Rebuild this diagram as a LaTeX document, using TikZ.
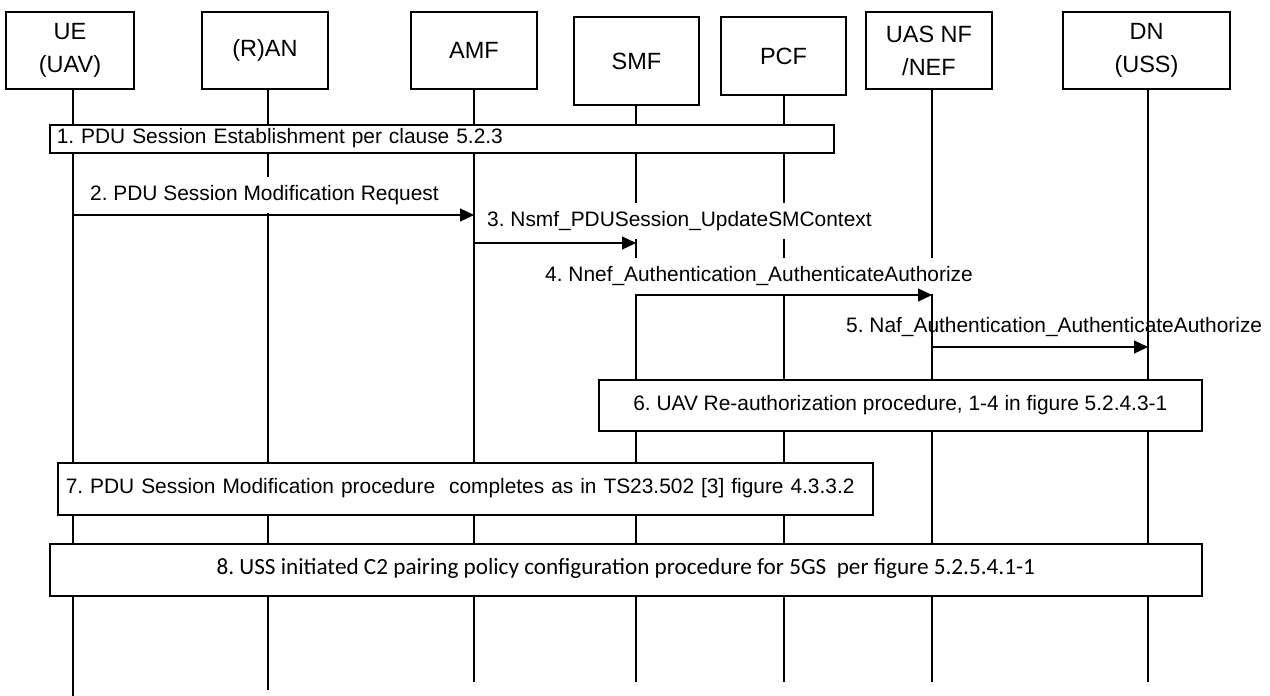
\documentclass[tikz,border=0pt]{standalone}
\usepackage{fontspec}
\setmainfont{Liberation Sans}
\newfontfamily\calib{Carlito}
\usetikzlibrary{arrows.meta}
\begin{document}
\frenchspacing
\begin{tikzpicture}[x=1pt,y=-1pt,
  hdr/.style={draw, line width=1.6pt, align=center, font=\fontsize{23.5}{33}\selectfont, inner sep=0pt},
  life/.style={line width=1.1pt},
  proc/.style={draw, line width=1.6pt, fill=white, font=\fontsize{20.9}{24}\selectfont, inner ysep=0pt, text height=15pt, text depth=5pt},
  lbl/.style={font=\fontsize{20.9}{24}\selectfont, inner xsep=1pt, inner ysep=8pt, text height=15pt, text depth=5pt},
  msg/.style={line width=1.2pt, -{Triangle[length=14pt,width=13pt]}}
]
\useasboundingbox (0,0) rectangle (1270,696);
\fill[white] (0,0) rectangle (1270,696);
% headers
\node[hdr, minimum width=128pt, minimum height=77pt] (ue)  at (70,50.5)   {UE\\(UAV)};
\node[hdr, minimum width=126pt, minimum height=77pt] (ran) at (265,50.5)  {(R)AN};
\node[hdr, minimum width=126pt, minimum height=77pt] (amf) at (474,50.5)  {AMF};
\node[hdr, minimum width=125pt, minimum height=88pt] (smf) at (636.5,61)  {SMF};
\node[hdr, minimum width=125pt, minimum height=78pt] (pcf) at (783.5,56)  {PCF};
\node[hdr, minimum width=126pt, minimum height=77pt] (uas) at (929,50.5)  {UAS NF\\/NEF};
\node[hdr, minimum width=167pt, minimum height=77pt] (dn)  at (1146.5,50.5) {DN\\(USS)};
% lifeline ends
\coordinate (ueE)  at (73,696);
\coordinate (ranE) at (268,690);
\coordinate (amfE) at (474,682);
\coordinate (smfE) at (636,682);
\coordinate (pcfE) at (784,682);
\coordinate (uasE) at (932,682);
\coordinate (dnE)  at (1148,682);
\foreach \n in {ue,ran,amf,smf,pcf,uas,dn}{
  \draw[life] (\n.south -| \n E) -- (\n E);
}
% step 1
\node[proc, anchor=north west, minimum width=784pt, minimum height=28pt, text width=770pt, inner xsep=7pt, align=left] (s1) at (49,124)
  {1. PDU Session Establishment per clause 5.2.3};
% step 2
\coordinate (m2a) at (73,215);
\coordinate (m2b) at (474,215);
\node[lbl, fill=white, anchor=west] (l2) at (89,195) {2. PDU Session Modification Request};
\draw[msg] (m2a) -- (m2b);
% step 3
\coordinate (m3a) at (474,243);
\coordinate (m3b) at (636,243);
\node[lbl, fill=white, anchor=west] (l3) at (486,221) {3. Nsmf\_PDUSession\_UpdateSMContext};
\draw[msg] (m3a) -- (m3b);
% step 4
\coordinate (m4a) at (636,295);
\coordinate (m4b) at (932,295);
\node[lbl, fill=white, anchor=west] (l4) at (544,276) {4. Nnef\_Authentication\_AuthenticateAuthorize};
\draw[msg] (m4a) -- (m4b);
% step 5
\coordinate (m5a) at (932,347);
\coordinate (m5b) at (1148,347);
\node[lbl, anchor=west] (l5) at (845,327) {5. Naf\_Authentication\_AuthenticateAuthorize};
\draw[msg] (m5a) -- (m5b);
% step 6
\node[proc, anchor=north west, minimum width=603pt, minimum height=51pt] (s6) at (598,379)
  {6. UAV Re-authorization procedure, 1-4 in figure 5.2.4.3-1};
% step 7
\node[proc, anchor=north west, minimum width=813pt, minimum height=52pt, text width=799pt, inner xsep=8pt, align=left] (s7) at (57,462)
  {7. PDU Session Modification procedure\ \ completes as in TS23.502 [3] figure 4.3.3.2};
% step 8
\node[proc, anchor=north west, minimum width=1152pt, minimum height=52pt, font=\calib\fontsize{23.2}{26}\selectfont] (s8) at (49,543)
  {8. USS initiated C2 pairing policy configuration procedure for 5GS\ \ per figure 5.2.5.4.1-1};
\end{tikzpicture}
\end{document}
